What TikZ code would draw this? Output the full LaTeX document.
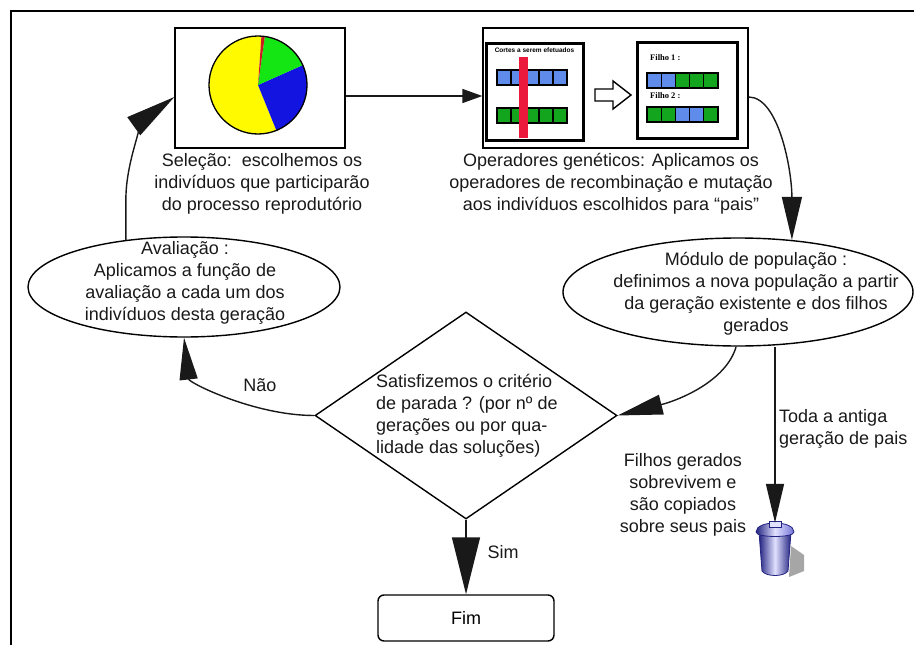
\documentclass[tikz,border=0pt]{standalone}
\usepackage{fontspec}
\setmainfont{Liberation Sans}
\newfontfamily\filhofont{Liberation Serif}
\usetikzlibrary{arrows.meta,shapes.geometric,calc}

\definecolor{gblue}{RGB}{95,140,235}
\definecolor{ggreen}{RGB}{20,165,30}
\definecolor{cutred}{RGB}{235,25,60}
\definecolor{pieyellow}{RGB}{255,250,0}
\definecolor{piegreen}{RGB}{20,230,20}
\definecolor{pieblue}{RGB}{20,20,225}
\definecolor{piered}{RGB}{200,30,30}
\definecolor{trdark}{RGB}{35,35,130}
\definecolor{trmid}{RGB}{115,115,215}
\definecolor{trlight}{RGB}{225,225,255}

\tikzset{
  lbl/.style={font=\fontsize{18}{22}\selectfont, align=center, inner sep=0pt, text=black!90},
  conn/.style={line width=1.4pt, draw=black!90},
  panel/.style={draw, line width=1.3pt, inner sep=0pt},
  ovalbox/.style={ellipse, draw, line width=1.4pt, inner sep=0pt},
  cell/.style={draw=black, line width=1.2pt},
  thickframe/.style={draw=black, line width=3pt},
}

\begin{document}
\begin{tikzpicture}[x=1pt,y=-1pt]
\useasboundingbox (0,0) rectangle (914,645);

% outer frame (left and top edges)
\draw[line width=1.8pt] (11,645) -- (11,11) -- (914,11);

% ---------- selection panel with pie chart ----------
\node[panel, minimum width=170pt, minimum height=120pt] (pie) at (260,88) {};
\fill[pieyellow] (258,85) -- ++(86:49pt) arc[start angle=86, end angle=292, radius=49pt] -- cycle;
\fill[pieblue]   (258,85) -- ++(-68:49pt) arc[start angle=-68, end angle=24, radius=49pt] -- cycle;
\fill[piegreen]  (258,85) -- ++(24:49pt) arc[start angle=24, end angle=82, radius=49pt] -- cycle;
\fill[piered]    (258,85) -- ++(82:49pt) arc[start angle=82, end angle=86, radius=49pt] -- cycle;
\draw[line width=1.3pt] (258,85) circle[radius=49pt];

% ---------- genetic operators panel ----------
\node[panel, minimum width=265pt, minimum height=120pt] (cross) at (615.5,88) {};
% parents with cut point
\draw[thickframe] (486,43) rectangle (583,140);
\node[font=\fontsize{6.5}{7}\selectfont\bfseries, inner sep=0pt] (cuttxt) at (534.5,50) {Cortes a serem efetuados};
\foreach \i in {0,...,4}
  \draw[cell, fill=gblue] (497+\i*14,70) rectangle ++(14,15);
\foreach \i in {0,...,4}
  \draw[cell, fill=ggreen] (497+\i*14,108) rectangle ++(14,15);
\fill[cutred] (519,57) rectangle (528,138);
% hollow block arrow
\draw[line width=1.4pt, fill=white, line join=miter]
  (595,89) -- (613,89) -- (613,81) -- (631,95) -- (613,109) -- (613,101) -- (595,101) -- cycle;
% offspring
\draw[thickframe] (637,42) rectangle (737,138);
\node[font=\filhofont\fontsize{8.5}{9}\selectfont\bfseries, anchor=west, inner sep=0pt] (f1) at (650,58) {Filho 1 :};
\node[font=\filhofont\fontsize{8.5}{9}\selectfont\bfseries, anchor=west, inner sep=0pt] (f2) at (650,96) {Filho 2 :};
\foreach \c [count=\i from 0] in {gblue,gblue,ggreen,ggreen,ggreen}
  \draw[cell, fill=\c] (647+\i*14.2,73) rectangle ++(14.2,15);
\foreach \c [count=\i from 0] in {ggreen,ggreen,gblue,gblue,ggreen}
  \draw[cell, fill=\c] (647+\i*14.2,107) rectangle ++(14.2,15);

% ---------- captions under the panels ----------
\node[lbl] (seltxt) at (262,184) {Seleção:\ \ escolhemos os\\indivíduos que participarão\\do processo reprodutório};
\node[lbl] (optxt) at (611,184) {Operadores genéticos: Aplicamos os\\operadores de recombinação e mutação\\aos indivíduos escolhidos para “pais”};

% ---------- evaluation ----------
\node[ovalbox, minimum width=312pt, minimum height=100pt] (aval) at (184,287) {};
\node[lbl] (avaltxt) at (185,283) {Avaliação :\\Aplicamos a função de\\avaliação a cada um dos\\indivíduos desta geração};

% ---------- population module ----------
\node[ovalbox, minimum width=350pt, minimum height=108pt] (mod) at (738,292) {};
\node[lbl] (modtxt) at (756,294) {Módulo de população :\\definimos a nova população a partir\\da geração existente e dos filhos\\gerados};

% ---------- stopping criterion ----------
\node[diamond, draw, line width=1.4pt, minimum width=302pt, minimum height=207pt, inner sep=0pt] (dia) at (466,415.5) {};
\node[lbl, align=left, anchor=west] (diatxt) at (376,416) {Satisfizemos o critério\\de parada ? (por nº de\\gerações ou por qua-\\lidade das soluções)};

% ---------- end ----------
\node[draw, line width=1.4pt, rounded corners=6pt, minimum width=176pt, minimum height=46pt, font=\fontsize{18}{22}\selectfont] (fim) at (466,618) {Fim};

% ---------- trash can ----------
\node[minimum width=40pt, minimum height=52pt, inner sep=0pt] (trash) at (775,549) {};
\fill[gray!70] (791,546) -- (804,555) -- (804,571) -- (789,577) -- cycle;
\shade[left color=trdark, right color=trdark, middle color=trlight, draw=trdark, line width=0.8pt]
  (759,532) -- (791,532) -- (788,571) .. controls (784,577) and (766,577) .. (762,571) -- cycle;
\shade[left color=trdark, right color=trmid, middle color=trlight, draw=trdark, line width=0.8pt]
  (756,532) .. controls (756,520) and (794,520) .. (794,532) .. controls (794,538) and (756,538) .. (756,532) -- cycle;
\fill[trlight, draw=trdark, line width=0.6pt] (769,521) rectangle (781,527);

% ---------- connectors ----------
\draw[conn, -{Triangle[length=20pt, width=14pt]}] ([yshift=-8pt]pie.east) -- ([yshift=-8pt]cross.west);
\draw[conn, -{Triangle[length=43pt, width=20pt]}] ([yshift=-9pt]cross.east) .. controls +(30,0) and +(0,-70) .. (mod.44);
\draw[conn, -{Triangle[length=50pt, width=22pt]}] (aval.141) -- ++(0,-40) .. controls +(0,-45) and +(-25,18) .. ([yshift=-9pt]pie.west);
\draw[conn, -{Triangle[length=45pt, width=20pt]}] (mod.268) .. controls +(-10,35) and +(60,-15) .. (dia.east);
\draw[conn, -{Triangle[length=42pt, width=18pt]}] (dia.west) .. controls +(-60,0) and +(5,45) .. (aval.south);
\draw[conn, -{Triangle[length=57pt, width=28pt]}] (dia.south) -- (fim.north);
\draw[conn, -{Triangle[length=39pt, width=18pt]}] (trash.north |- mod.south) -- (trash.north);

% ---------- connector labels ----------
\node[lbl] (nao) at (260,385) {Não};
\node[lbl] (sim) at (503,552) {Sim};
\node[lbl, align=left, anchor=west] (toda) at (779,429) {Toda a antiga\\geração de pais};
\node[lbl] (filhos) at (683,495) {Filhos gerados\\sobrevivem e\\são copiados\\sobre seus pais};
\end{tikzpicture}
\end{document}
